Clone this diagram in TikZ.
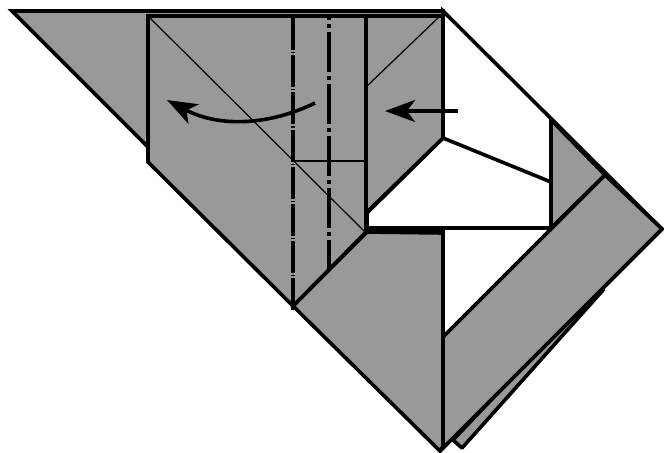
\documentclass[tikz,border=0pt]{standalone}
\usetikzlibrary{arrows.meta}

\begin{document}
\begin{tikzpicture}[x=0.5pt,y=-0.5pt,
    paper/.style={fill=black!40, draw=black, line width=1.8pt, line join=miter},
    hole/.style={fill=white, draw=black, line width=1.8pt, line join=miter},
    crease/.style={draw=black, line width=0.6pt},
    fold/.style={draw=black, line width=1.8pt},
    valley/.style={draw=black, line width=1.8pt, dash pattern=on 16pt off 1pt on 0.6pt off 1pt},
    mountain/.style={draw=black, line width=1.8pt, dash pattern=on 20pt off 2pt on 2pt off 2pt, dash phase=18pt},
    move/.style={draw=black, line width=1.8pt, -{Stealth[length=15pt,width=11pt,inset=4pt]}}]
\useasboundingbox (0,0) rectangle (664,452);

%%%%%white back of the model
\filldraw[hole] (443,11) -- (662,229) -- (443,448) -- (443,138) -- cycle;
\filldraw[hole] (443,138) -- (551,182) -- (551,228) -- (367,228) -- (367,213) -- cycle;

%%%%%left triangle
\filldraw[paper] (12,11) -- (443,11) -- (443,20) -- (148,147) -- cycle;

%%%%%under flap at the bottom
\filldraw[paper, line join=bevel] (453,440) -- (462,448) -- (604,289) -- (590,296) -- cycle;

%%%%%right band
\filldraw[paper] (551,120) -- (605,175) -- (551,228) -- cycle;
\filldraw[paper] (605,175) -- (662,229) -- (443,448) -- (443,337) -- cycle;

%%%%%lower part
\filldraw[paper] (293,306) -- (367,232) -- (443,233) -- (443,446) -- (440,451) -- cycle;
\draw[fold] (367,229) -- (443,229);

%%%%%main panel
\filldraw[paper] (148,16) -- (443,16) -- (443,138) -- (366,213) -- (366,232) -- (293,306) -- (148,162) -- cycle;
\draw[fold] (366,16) -- (366,232);
\draw[fold] (12,11) -- (443,11);

%%%%%thin creases
\draw[crease] (148,16) -- (366,233);
\draw[crease] (366,87) -- (440,16);
\draw[crease] (293,161) -- (366,161);

%%%%%dash dot folds
\draw[valley] (293,18) -- (293,310);
\draw[mountain] (329,16) -- (329,270);

%%%%%arrows
\draw[move] (315,103) .. controls (270,125) and (220,128) .. (167,100);
\draw[move] (458,111) -- (385,111);

\end{tikzpicture}
\end{document}
